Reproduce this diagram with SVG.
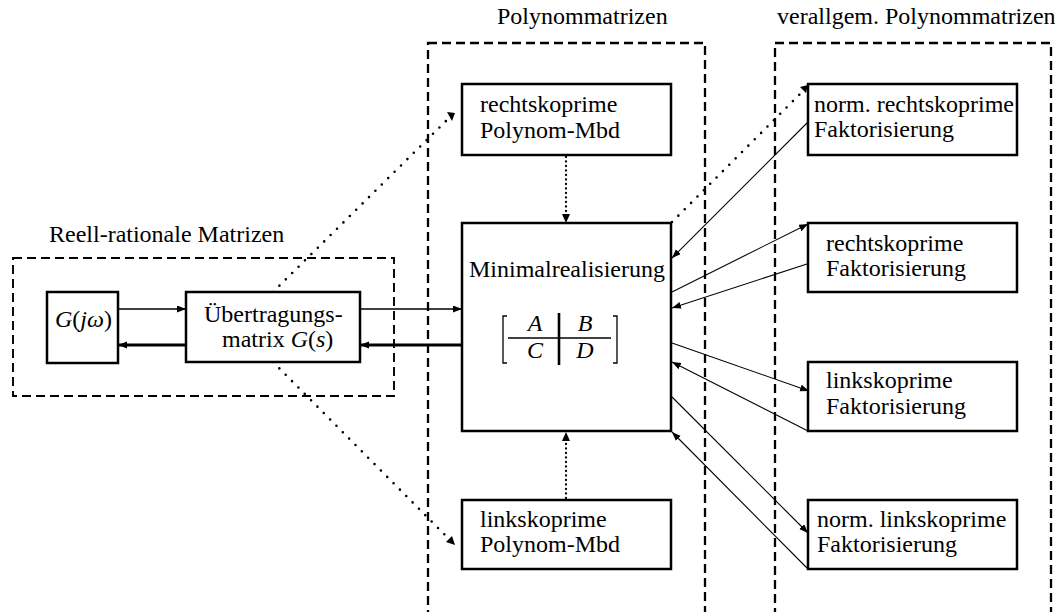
<svg xmlns="http://www.w3.org/2000/svg" width="1055" height="612" viewBox="0 0 1055 612">
  <style>
    text { font-family: "Liberation Serif", "Times New Roman", serif; font-size: 24px; fill: #000; }
    .mi { font-style: italic; }
    .node { fill: #fff; stroke: #000; stroke-width: 2.5; }
    .region { fill: none; stroke: #000; stroke-dasharray: 9 5; }
    .thin { fill: none; stroke: #000; stroke-width: 1.1; }
    .mid { fill: none; stroke: #000; stroke-width: 1.7; }
    .thick { fill: none; stroke: #000; stroke-width: 2.9; }
    .dots { fill: none; stroke: #000; stroke-width: 2.6; stroke-linecap: round; stroke-dasharray: 0 9; }
    .dots-dense { fill: none; stroke: #000; stroke-width: 2.3; stroke-linecap: round; stroke-dasharray: 0 4.5; }
  </style>
  <defs>
    <marker id="tip" markerUnits="userSpaceOnUse" markerWidth="10" markerHeight="8" refX="9" refY="3.5" orient="auto">
      <path d="M0,0 L9,3.5 L0,7 Z" fill="#000"/>
    </marker>
  </defs>

  <rect width="1055" height="612" fill="#fff"/>

  <!-- region frames and their captions -->
  <g id="regions">
    <rect class="region" x="13" y="258" width="381" height="138" stroke-width="1.9"/>
    <rect class="region" x="428" y="43" width="277" height="620" stroke-width="2.3"/>
    <rect class="region" x="775" y="43" width="276" height="620" stroke-width="2.3"/>
    <text x="49" y="242">Reell-rationale Matrizen</text>
    <text x="497" y="24">Polynommatrizen</text>
    <text x="777" y="24">verallgem. Polynommatrizen</text>
  </g>

  <!-- connectors -->
  <g id="connectors">
    <!-- G(jw) <-> transfer matrix -->
    <line class="mid" x1="118" y1="309" x2="186" y2="309" marker-end="url(#tip)"/>
    <line class="thick" x1="186" y1="345" x2="118" y2="345" marker-end="url(#tip)"/>
    <!-- transfer matrix <-> minimal realisation -->
    <line class="mid" x1="360" y1="309" x2="462" y2="309" marker-end="url(#tip)"/>
    <line class="thick" x1="462" y1="345" x2="360" y2="345" marker-end="url(#tip)"/>
    <!-- dotted links to the polynomial factorisations -->
    <line class="dots" x1="273" y1="292" x2="450" y2="117"/>
    <path d="M447,112 L455,113 L452,121 Z" fill="#000"/>
    <line class="dots" x1="273" y1="362" x2="449" y2="539"/>
    <path d="M452,536 L455,545 L446,542 Z" fill="#000"/>
    <line class="dots-dense" x1="566" y1="157" x2="566" y2="216"/>
    <path d="M562,214 L566,223 L570,214 Z" fill="#000"/>
    <line class="dots-dense" x1="566" y1="498" x2="566" y2="439"/>
    <path d="M562,441 L566,432 L570,441 Z" fill="#000"/>
    <line class="dots" x1="672" y1="222" x2="802" y2="92"/>
    <path d="M800,87 L808,85 L806,93 Z" fill="#000"/>
    <!-- minimal realisation <-> generalised factorisations -->
    <line class="thin" x1="808" y1="122" x2="672" y2="258" marker-end="url(#tip)"/>
    <line class="thin" x1="672" y1="292" x2="808" y2="224" marker-end="url(#tip)"/>
    <line class="thin" x1="810" y1="263" x2="672" y2="308" marker-end="url(#tip)"/>
    <line class="thin" x1="672" y1="343" x2="809" y2="391" marker-end="url(#tip)"/>
    <line class="thin" x1="808" y1="431" x2="672" y2="362" marker-end="url(#tip)"/>
    <line class="thin" x1="672" y1="397" x2="808" y2="533" marker-end="url(#tip)"/>
    <line class="thin" x1="808" y1="569" x2="672" y2="432" marker-end="url(#tip)"/>
  </g>

  <g id="node-gjw">
    <rect class="node" x="47" y="292" width="71" height="71"/>
    <text x="55" y="327"><tspan class="mi">G</tspan>(<tspan class="mi">jω</tspan>)</text>
  </g>

  <g id="node-transfer">
    <rect class="node" x="186" y="292" width="174" height="70"/>
    <text x="204" y="322">Übertragungs-</text>
    <text x="222" y="347">matrix <tspan class="mi">G</tspan>(<tspan class="mi">s</tspan>)</text>
  </g>

  <g id="node-minimal">
    <rect class="node" x="462" y="223" width="209" height="208"/>
    <text x="567" y="277" text-anchor="middle">Minimalrealisierung</text>
    <!-- partitioned system matrix -->
    <path d="M507,316 L503,316 L503,363 L507,363" fill="none" stroke="#000" stroke-width="1.3"/>
    <path d="M613,316 L617,316 L617,363 L613,363" fill="none" stroke="#000" stroke-width="1.3"/>
    <line x1="508" y1="338" x2="611" y2="338" stroke="#000" stroke-width="1.6"/>
    <line x1="559" y1="313" x2="559" y2="365" stroke="#000" stroke-width="2.6"/>
    <text class="mi" x="535" y="331" text-anchor="middle" font-size="21">A</text>
    <text class="mi" x="585" y="331" text-anchor="middle" font-size="21">B</text>
    <text class="mi" x="535" y="358" text-anchor="middle" font-size="21">C</text>
    <text class="mi" x="585" y="358" text-anchor="middle" font-size="21">D</text>
  </g>

  <g id="node-rpoly">
    <rect class="node" x="462" y="84" width="209" height="71"/>
    <text x="480" y="112">rechtskoprime</text>
    <text x="480" y="138">Polynom-Mbd</text>
  </g>

  <g id="node-lpoly">
    <rect class="node" x="462" y="500" width="209" height="69"/>
    <text x="480" y="527">linkskoprime</text>
    <text x="480" y="552">Polynom-Mbd</text>
  </g>

  <g id="node-nrcf">
    <rect class="node" x="808" y="84" width="209" height="71"/>
    <text x="814" y="112">norm. rechtskoprime</text>
    <text x="814" y="137">Faktorisierung</text>
  </g>

  <g id="node-rcf">
    <rect class="node" x="808" y="223" width="209" height="69"/>
    <text x="826" y="251">rechtskoprime</text>
    <text x="826" y="276">Faktorisierung</text>
  </g>

  <g id="node-lcf">
    <rect class="node" x="808" y="362" width="209" height="69"/>
    <text x="826" y="388">linkskoprime</text>
    <text x="826" y="414">Faktorisierung</text>
  </g>

  <g id="node-nlcf">
    <rect class="node" x="808" y="500" width="209" height="69"/>
    <text x="817" y="527">norm. linkskoprime</text>
    <text x="817" y="552">Faktorisierung</text>
  </g>
</svg>
